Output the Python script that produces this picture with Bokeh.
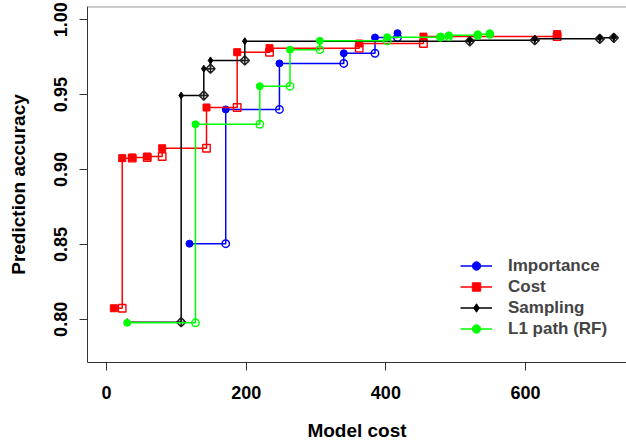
import math
from bokeh.plotting import figure
from bokeh.models import FixedTicker, Span, Legend, LegendItem, NumeralTickFormatter, Range1d
from bokeh.embed import file_html
from bokeh.resources import INLINE

# ---- data ----
imp_cost = [118.8, 170.7, 247.6, 339.7, 384.4, 416.6]
imp_acc = [0.8505, 0.9401, 0.9708, 0.9776, 0.9881, 0.9910]

cost_cost = [10.5, 22.5, 36.8, 58.3, 79.7, 143.2, 187.1, 233.4, 361.8, 453.8, 645.2]
cost_acc = [0.8074, 0.9076, 0.9080, 0.9087, 0.9142, 0.9414, 0.9783, 0.9810, 0.9841, 0.9887, 0.9904]

samp_cost = [29.6, 106.9, 139.3, 148.9, 198.0, 520.1, 613.2, 706.2, 726.3]
samp_acc = [0.7981, 0.9494, 0.9673, 0.9728, 0.9856, 0.9863, 0.9872, 0.9879, 0.9884]

l1_cost = [29.6, 127.4, 219.5, 262.7, 305.4, 401.9, 478.2, 490.1, 531.6, 548.7]
l1_acc = [0.7977, 0.9302, 0.9556, 0.9800, 0.9859, 0.9883, 0.9887, 0.9896, 0.9902, 0.9910]

x_ticks = [0, 200, 400, 600]
y_ticks = [0.80, 0.85, 0.90, 0.95, 1.00]
series_names = ["Importance", "Cost", "Sampling", "L1 path (RF)"]

FONT = "Liberation Sans"

X0, X1 = -27.2, 744.5
Y0, Y1 = 0.7712, 1.0088

p = figure(width=626, height=443, output_backend="svg", toolbar_location=None,
           x_range=Range1d(X0, X1), y_range=Range1d(Y0, Y1),
           min_border_left=87, min_border_right=0, min_border_top=6, min_border_bottom=79)
p.xgrid.visible = False
p.ygrid.visible = False
p.outline_line_color = None
p.background_fill_color = "white"
p.border_fill_color = "white"

# axes
for ax in (p.xaxis[0], p.yaxis[0]):
    ax.axis_line_color = "#333333"
    ax.major_tick_line_color = "#333333"
    ax.major_tick_out = 8
    ax.major_tick_in = 0
    ax.minor_tick_line_color = None
    ax.major_label_text_font = FONT
    ax.major_label_text_font_style = "bold"
    ax.major_label_text_font_size = "18px"
    ax.major_label_text_color = "black"
    ax.axis_label_text_font = FONT
    ax.axis_label_text_font_style = "bold"
    ax.axis_label_text_font_size = "19px"
    ax.axis_label_text_color = "black"

p.xaxis.ticker = FixedTicker(ticks=x_ticks)
p.xaxis.formatter = NumeralTickFormatter(format="0")
p.xaxis.axis_label = "Model cost"
p.xaxis.major_label_standoff = 15
p.xaxis.axis_label_standoff = 18

p.yaxis.ticker = FixedTicker(ticks=y_ticks)
p.yaxis.formatter = NumeralTickFormatter(format="0.00")
p.yaxis.axis_label = "Prediction accuracy"
p.yaxis.major_label_orientation = "vertical"
p.yaxis.major_label_standoff = 12
p.yaxis.axis_label_standoff = 23

# top box line
p.add_layout(Span(location=Y1, dimension="width", line_color="#999999", line_width=2))


def corners(xs, ys):
    return xs[1:], ys[:-1]


items = []

# Importance (blue)
col = "#0000FF"
r_line = p.step(imp_cost, imp_acc, mode="after", line_color=col, line_width=1.5)
cx, cy = corners(imp_cost, imp_acc)
p.scatter(cx, cy, marker="circle", size=7.5, fill_color=None, line_color=col, line_width=1.4)
r_pt = p.scatter(imp_cost, imp_acc, marker="circle", size=7, fill_color=col, line_color=col)
items.append(LegendItem(label=series_names[0], renderers=[r_line, r_pt]))

# Cost (red)
col = "#FF0000"
r_line = p.step(cost_cost, cost_acc, mode="after", line_color=col, line_width=1.5)
cx, cy = corners(cost_cost, cost_acc)
p.scatter(cx, cy, marker="square", size=7.5, fill_color=None, line_color=col, line_width=1.4)
r_pt = p.scatter(cost_cost, cost_acc, marker="square", size=7, fill_color=col, line_color=col)
items.append(LegendItem(label=series_names[1], renderers=[r_line, r_pt]))

# Sampling (black)
col = "#000000"
r_line = p.step(samp_cost, samp_acc, mode="after", line_color=col, line_width=1.5)
cx, cy = corners(samp_cost, samp_acc)
p.scatter(cx, cy, marker="square_x", angle=math.pi / 4, size=6.5, fill_color=None,
          line_color="#222222", line_width=1.5)
r_pt = p.scatter(samp_cost, samp_acc, marker="diamond", size=7,
                 fill_color=col, line_color=col)
items.append(LegendItem(label=series_names[2], renderers=[r_line, r_pt]))

# L1 path (green)
col = "#00FF00"
r_line = p.step(l1_cost, l1_acc, mode="after", line_color=col, line_width=1.5)
cx, cy = corners(l1_cost, l1_acc)
p.scatter(cx, cy, marker="circle", size=7.5, fill_color=None, line_color=col, line_width=1.4)
r_pt = p.scatter(l1_cost, l1_acc, marker="circle", size=7, fill_color=col, line_color=col)
items.append(LegendItem(label=series_names[3], renderers=[r_line, r_pt]))

legend = Legend(items=items, location=(373, 23), orientation="vertical",
                padding=0, margin=0, spacing=0,
                glyph_width=32, glyph_height=21, label_height=21, label_standoff=16,
                label_text_font=FONT, label_text_font_style="bold",
                label_text_font_size="17px",
                border_line_color=None, background_fill_alpha=0)
p.add_layout(legend)

open("out.html", "w").write(file_html(p, INLINE))
